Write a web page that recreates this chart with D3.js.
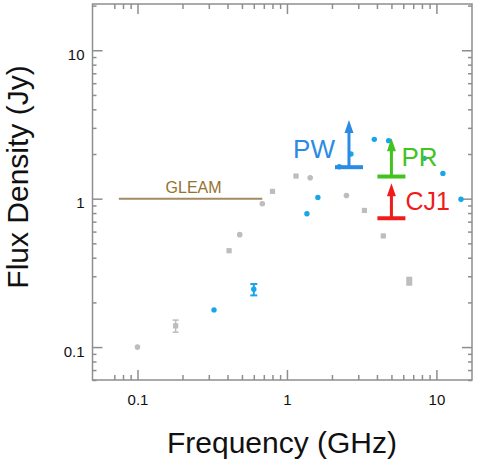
<!DOCTYPE html>
<html><head><meta charset="utf-8">
<script src="https://cdn.jsdelivr.net/npm/d3@7"></script>
<style>
html,body{margin:0;padding:0;background:#fff;}
svg{display:block;font-family:"Liberation Sans",Arial,Helvetica,sans-serif;}
</style></head>
<body><svg id="c" width="482" height="462"></svg>
<script>
// ---- data ----
const grayFreq  = [0.1, 0.18, 0.41, 0.483, 0.684, 0.80, 1.15, 1.43, 2.5, 3.30, 4.41, 6.58];
const grayFlux  = [0.1, 0.139, 0.446, 0.572, 0.925, 1.12, 1.42, 1.385, 1.05, 0.833, 0.561, 0.279];
const grayShape = ["circle","square","square","circle","circle","square","square","circle","circle","square","square","bar"];
const grayErrLo = [null, 0.126, null, null, null, null, null, null, null, null, null, 0.259];
const grayErrHi = [null, 0.152, null, null, null, null, null, null, null, null, null, 0.298];

const blueFreq  = [0.325, 0.60, 1.36, 1.61, 2.24, 2.68, 3.84, 4.79, 8.29, 11.05, 14.6];
const blueFlux  = [0.178, 0.245, 0.792, 1.02, 1.64, 2.0, 2.51, 2.46, 1.87, 1.48, 0.99];
const blueErrLo = [null, 0.223, null, null, null, null, null, null, null, null, null];
const blueErrHi = [null, 0.266, null, null, null, null, null, null, null, null, null];

const limitNames = ["PW", "PR", "CJ1"];
const limitFreq  = [2.6, 5.0, 5.0];
const limitLow   = [1.63, 1.41, 0.738];
const limitTip   = [3.39, 2.55, 1.27];
const limitColor = ["#2b8be4", "#41c41f", "#f01c1c"];

const gleamFreq = [0.075, 0.684];
const gleamFlux = 1.0;
const gleamLabel = "GLEAM";

const xMajor = [0.1, 1, 10];
const xMinor = [0.07,0.08,0.09,0.2,0.3,0.4,0.5,0.6,0.7,0.8,0.9,2,3,4,5,6,7,8,9];
const yMajor = [0.1, 1, 10];
const yMinor = [0.06,0.07,0.08,0.09,0.2,0.3,0.4,0.5,0.6,0.7,0.8,0.9,2,3,4,5,6,7,8,9,20];
const xLabels = ["0.1","1","10"];
const yLabels = ["0.1","1","10"];

// ---- layout ----
const L = 92.5, R = 472, T = 4, B = 380;
const svg = d3.select("#c");
const x = d3.scaleLog().domain([0.05, 17.3]).range([L, R]);
const y = d3.scaleLog().domain([0.06, 20.5]).range([B, T]);
const axisCol = "#8e8e8e";

function styleAxis(g){
  g.select(".domain").remove();
  g.selectAll(".tick line").attr("stroke", axisCol).attr("stroke-width", 1.5);
  g.selectAll("text").attr("fill","#111").style("font-size","15px")
    .style("font-family",'"Liberation Sans",Arial,sans-serif');
}
// bottom
svg.append("g").attr("transform",`translate(0,${B})`)
  .call(d3.axisBottom(x).tickValues(xMajor).tickSize(-10).tickPadding(14).tickFormat((d,i)=>xLabels[i]))
  .call(styleAxis);
svg.append("g").attr("transform",`translate(0,${B})`)
  .call(d3.axisBottom(x).tickValues(xMinor).tickSize(-5).tickFormat(""))
  .call(styleAxis);
// top
svg.append("g").attr("transform",`translate(0,${T})`)
  .call(d3.axisTop(x).tickValues(xMajor).tickSize(-10).tickFormat(""))
  .call(styleAxis);
svg.append("g").attr("transform",`translate(0,${T})`)
  .call(d3.axisTop(x).tickValues(xMinor).tickSize(-5).tickFormat(""))
  .call(styleAxis);
// left
svg.append("g").attr("transform",`translate(${L},0)`)
  .call(d3.axisLeft(y).tickValues(yMajor).tickSize(-10).tickPadding(8).tickFormat((d,i)=>yLabels[i]))
  .call(styleAxis)
  .call(g=>g.selectAll("text").attr("dy","0.6em"));
svg.append("g").attr("transform",`translate(${L},0)`)
  .call(d3.axisLeft(y).tickValues(yMinor).tickSize(-4).tickFormat(""))
  .call(styleAxis);
// right
svg.append("g").attr("transform",`translate(${R},0)`)
  .call(d3.axisRight(y).tickValues(yMajor).tickSize(-10).tickFormat(""))
  .call(styleAxis);
svg.append("g").attr("transform",`translate(${R},0)`)
  .call(d3.axisRight(y).tickValues(yMinor).tickSize(-4).tickFormat(""))
  .call(styleAxis);

// frame
svg.append("rect").attr("x",L).attr("y",T).attr("width",R-L).attr("height",B-T)
  .attr("fill","none").attr("stroke",axisCol).attr("stroke-width",1.5);

// axis titles
svg.append("text").attr("x",282).attr("y",453).attr("text-anchor","middle")
  .style("font-size","30px").attr("fill","#111").text("Frequency (GHz)");
svg.append("text").attr("transform","translate(28,177) rotate(-90)").attr("text-anchor","middle")
  .style("font-size","30px").attr("fill","#111").text("Flux Density (Jy)");

// GLEAM
svg.append("line").attr("x1",x(gleamFreq[0])).attr("x2",x(gleamFreq[1]))
  .attr("y1",y(gleamFlux)).attr("y2",y(gleamFlux))
  .attr("stroke","#a48a62").attr("stroke-width",2);
svg.append("text").attr("x",(x(gleamFreq[0])+x(gleamFreq[1]))/2+3).attr("y",y(gleamFlux)-6)
  .attr("text-anchor","middle").style("font-size","16px").attr("fill","#94722f").text(gleamLabel);

// gray points
const grayCol = "#bdbdbd";
grayFreq.forEach((f,i)=>{
  const cx = x(f), cy = y(grayFlux[i]);
  if (grayShape[i]==="bar") {
    const y1 = y(grayErrHi[i]), y2 = y(grayErrLo[i]);
    svg.append("rect").attr("x",cx-3).attr("y",y1).attr("width",6).attr("height",y2-y1).attr("fill",grayCol);
    return;
  }
  if (grayErrLo[i] != null) {
    const y1 = y(grayErrHi[i]), y2 = y(grayErrLo[i]);
    svg.append("line").attr("x1",cx).attr("x2",cx).attr("y1",y1).attr("y2",y2).attr("stroke",grayCol).attr("stroke-width",1.5);
    [y1,y2].forEach(yy=>svg.append("line").attr("x1",cx-3).attr("x2",cx+3).attr("y1",yy).attr("y2",yy).attr("stroke",grayCol).attr("stroke-width",1.5));
  }
  if (grayShape[i]==="square") {
    svg.append("rect").attr("x",cx-2.6).attr("y",cy-2.6).attr("width",5.2).attr("height",5.2).attr("fill",grayCol);
  } else {
    svg.append("circle").attr("cx",cx).attr("cy",cy).attr("r",2.8).attr("fill",grayCol);
  }
});

// blue points
const blueCol = "#17a6ea";
blueFreq.forEach((f,i)=>{
  const cx = x(f), cy = y(blueFlux[i]);
  if (blueErrLo[i] != null) {
    const y1 = y(blueErrHi[i]), y2 = y(blueErrLo[i]);
    svg.append("line").attr("x1",cx).attr("x2",cx).attr("y1",y1).attr("y2",y2).attr("stroke",blueCol).attr("stroke-width",2);
    [y1,y2].forEach(yy=>svg.append("line").attr("x1",cx-3.5).attr("x2",cx+3.5).attr("y1",yy).attr("y2",yy).attr("stroke",blueCol).attr("stroke-width",2));
  }
  svg.append("circle").attr("cx",cx).attr("cy",cy).attr("r",2.7).attr("fill",blueCol);
});

// lower limits with arrows
limitNames.forEach((n,i)=>{
  const cx = x(limitFreq[i]), yb = y(limitLow[i]), yt = y(limitTip[i]), c = limitColor[i];
  svg.append("line").attr("x1",cx-14).attr("x2",cx+14).attr("y1",yb).attr("y2",yb).attr("stroke",c).attr("stroke-width",4);
  svg.append("line").attr("x1",cx).attr("x2",cx).attr("y1",yb).attr("y2",yt+10).attr("stroke",c).attr("stroke-width",3);
  svg.append("path").attr("d",`M${cx},${yt} L${cx-4.5},${yt+13} L${cx+4.5},${yt+13} Z`).attr("fill",c);
});
// labels
const pw = limitNames.indexOf("PW");
svg.append("text").attr("x",x(limitFreq[pw])-14).attr("y",y(limitLow[pw])-9).attr("text-anchor","end")
  .style("font-size","26px").attr("fill",limitColor[pw]).text("PW");
const pr = limitNames.indexOf("PR");
svg.append("text").attr("x",x(limitFreq[pr])+10).attr("y",y(limitLow[pr])-11).attr("text-anchor","start")
  .style("font-size","26px").attr("fill",limitColor[pr]).text("PR");
const cj = limitNames.indexOf("CJ1");
svg.append("text").attr("x",x(limitFreq[cj])+14).attr("y",y(limitLow[cj])-8).attr("text-anchor","start")
  .style("font-size","25px").attr("fill",limitColor[cj]).text("CJ1");
</script></body></html>
